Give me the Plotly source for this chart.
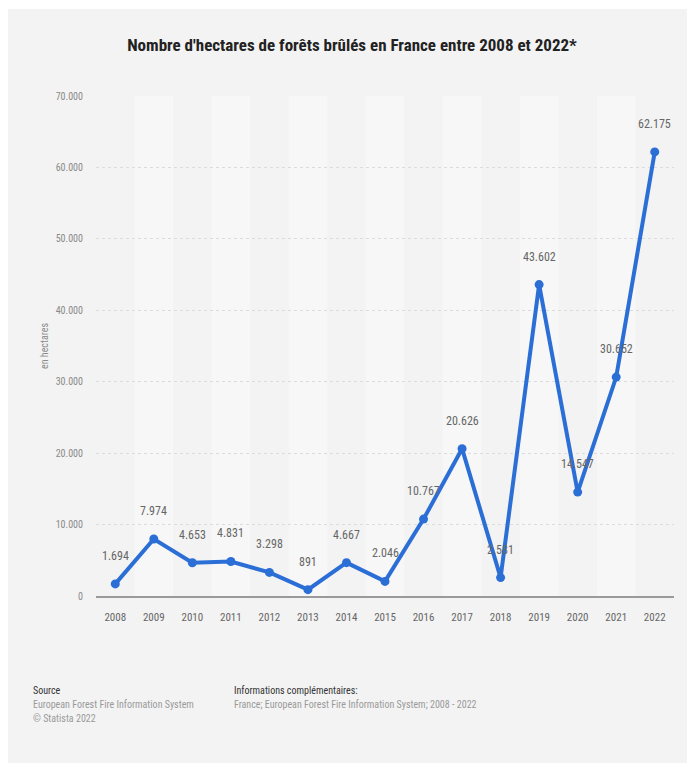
import plotly.graph_objects as go

years = ["2008", "2009", "2010", "2011", "2012", "2013", "2014", "2015",
         "2016", "2017", "2018", "2019", "2020", "2021", "2022"]
hectares = [1694, 7974, 4653, 4831, 3298, 891, 4667, 2046,
            10767, 20626, 2581, 43602, 14547, 30652, 62175]
y_ticks = [0, 10000, 20000, 30000, 40000, 50000, 60000, 70000]

TITLE = "Nombre d'hectares de forêts brûlés en France entre 2008 et 2022*"
FONT = "Liberation Sans Narrow, Roboto Condensed, Arial Narrow, Liberation Sans, sans-serif"

# page body has an 8px margin: figure frame = screen - 8
OFF = 8
W, H = 687, 755
L, R, T, B = 96 - OFF, 21, 96 - OFF, 755 - (596 - OFF)
PW, PH = W - L - R, H - T - B

def px_x(px):
    return (px - OFF - L) / PW

def px_y(py):
    return (H - B - (py - OFF)) / PH

CARD = "#f3f3f3"
BAND = "#f7f7f7"
BLUE = "#2b6fd6"

fig = go.Figure()
fig.add_trace(go.Scatter(
    x=years, y=hectares, mode="lines+markers",
    line=dict(color=BLUE, width=4),
    marker=dict(color=BLUE, size=9),
    hoverinfo="skip", showlegend=False,
))

shapes = [dict(type="rect", xref="paper", yref="paper",
               x0=px_x(7), x1=px_x(720), y0=px_y(800), y1=px_y(9),
               fillcolor=CARD, line=dict(width=0), layer="below")]
for i in range(1, len(years), 2):
    shapes.append(dict(type="rect", xref="x", yref="paper",
                       x0=i - 0.5, x1=i + 0.5, y0=0, y1=1,
                       fillcolor=BAND, line=dict(width=0), layer="below"))

annotations = []
for i, v in enumerate(hectares):
    annotations.append(dict(
        x=i, y=v, xref="x", yref="y", text=f"{v:,}".replace(",", "."),
        showarrow=False, yshift=28, font=dict(family=FONT, size=12, color="#666666"),
    ))

foot = [
    ("Source", 31, 690, "#333333"),
    ("European Forest Fire Information System", 31, 704, "#9a9a9a"),
    ("© Statista 2022", 31, 718, "#9a9a9a"),
    ("Informations complémentaires:", 232, 690, "#333333"),
    ("France; European Forest Fire Information System; 2008 - 2022", 232, 704, "#9a9a9a"),
]
for txt, fx, fy, col in foot:
    annotations.append(dict(
        x=px_x(fx), y=px_y(fy), xref="paper", yref="paper", text=txt,
        showarrow=False, xanchor="left", yanchor="middle",
        font=dict(family=FONT, size=10, color=col),
    ))

fig.update_layout(
    width=W, height=H,
    margin=dict(l=L, r=R, t=T, b=B),
    paper_bgcolor="white",
    plot_bgcolor=CARD,
    separators=",.",
    title=dict(text=f"<b>{TITLE}</b>", x=(352 - OFF) / W, xanchor="center",
               y=(H - (45 - OFF)) / H, yanchor="middle",
               font=dict(family=FONT, size=17, color="#222222")),
    xaxis=dict(type="category", range=[-0.5, len(years) - 0.5],
               showgrid=False, showline=True, linecolor="#9a9a9a", linewidth=2,
               ticks="", ticklabelstandoff=10,
               tickfont=dict(family=FONT, size=11, color="#666666")),
    yaxis=dict(range=[0, 70000], tickvals=y_ticks, tickformat=",d",
               showgrid=True, gridcolor="#dcdcdc", griddash="dot", gridwidth=1,
               zeroline=False, showline=False, ticks="", ticklabelstandoff=12,
               tickfont=dict(family=FONT, size=10, color="#8a8a8a"),
               title=dict(text="en hectares", standoff=5,
                          font=dict(family=FONT, size=10, color="#8a8a8a"))),
    shapes=shapes,
    annotations=annotations,
)

fig.write_html("out.html")
